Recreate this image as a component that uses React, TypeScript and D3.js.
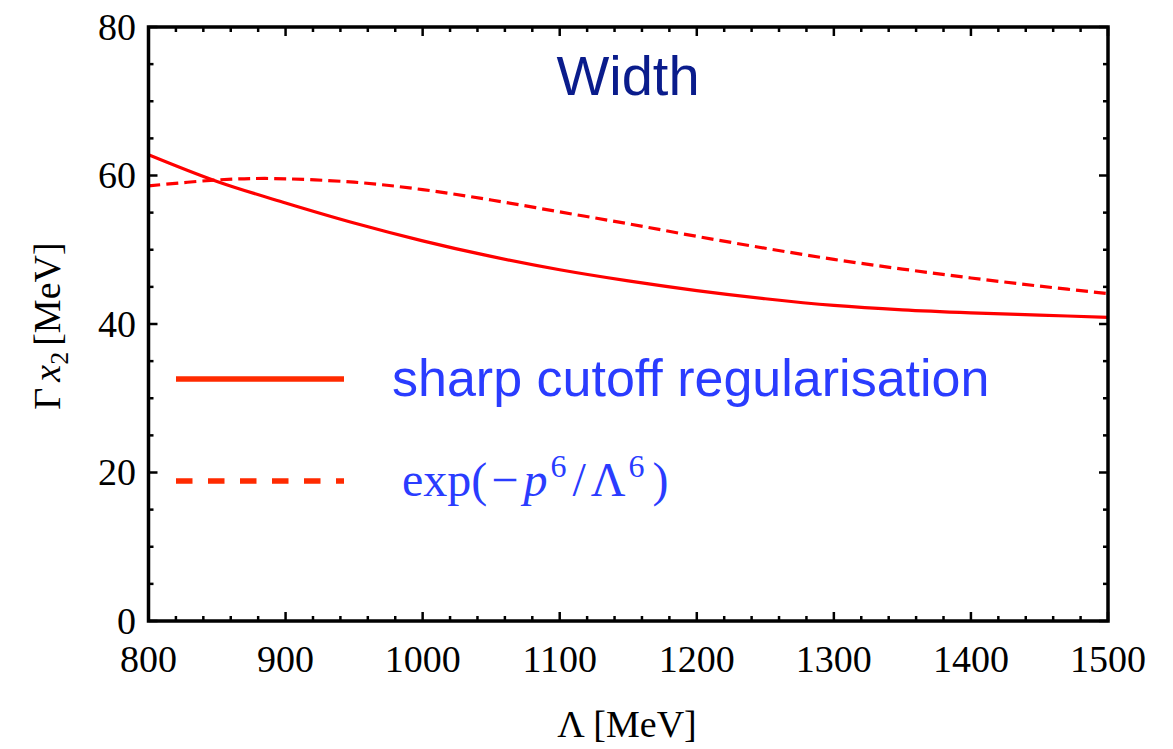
import React from "react";
import * as d3 from "d3";

const lambdaSolid = [800, 850, 900, 950, 1000, 1050, 1100, 1150, 1200, 1250, 1300, 1350, 1400, 1450, 1500];
const widthSolid = [62.8, 59.2, 56.3, 53.6, 51.2, 49.1, 47.3, 45.8, 44.5, 43.4, 42.5, 41.9, 41.5, 41.2, 40.9];
const lambdaDashed = [800, 850, 885, 950, 1000, 1050, 1100, 1150, 1200, 1250, 1300, 1350, 1400, 1450, 1500];
const widthDashed = [58.6, 59.4, 59.6, 59.1, 58.1, 56.7, 55.1, 53.5, 51.8, 50.2, 48.7, 47.4, 46.2, 45.1, 44.1];
const xMajor = [800, 900, 1000, 1100, 1200, 1300, 1400, 1500];
const yMajor = [0, 20, 40, 60, 80];

const W = 1173, H = 749;
const L = 148.5, R = 1108, T = 27, B = 621;

export default function App() {
  const x = d3.scaleLinear().domain([800, 1500]).range([L, R]);
  const y = d3.scaleLinear().domain([0, 80]).range([B, T]);
  const line = d3.line<[number, number]>().x(d => x(d[0])).y(d => y(d[1])).curve(d3.curveCatmullRom.alpha(0.5));
  const solid = line(lambdaSolid.map((l, i) => [l, widthSolid[i]]) as [number, number][]) || "";
  const dashed = line(lambdaDashed.map((l, i) => [l, widthDashed[i]]) as [number, number][]) || "";
  const xMinor = d3.range(800, 1501, 20).filter(v => v % 100 !== 0);
  const yMinor = d3.range(0, 81, 5).filter(v => v % 20 !== 0);
  const serif = "'Liberation Serif', 'DejaVu Serif', serif";
  const sans = "'Liberation Sans', Arial, sans-serif";
  const major = 9, minor = 5;
  return (
    <svg width={W} height={H} style={{ position: "absolute", left: 0, top: 0, background: "#fff" }}>
      <defs>
        <clipPath id="plot"><rect x={L} y={T} width={R - L} height={B - T} /></clipPath>
      </defs>
      <g clipPath="url(#plot)">
        <path d={solid} fill="none" stroke="#ff0000" strokeWidth={3.2} />
        <path d={dashed} fill="none" stroke="#ff0000" strokeWidth={3.2} strokeDasharray="12 6" />
      </g>
      {/* ticks */}
      <g stroke="#000" strokeWidth={2.5}>
        {xMajor.map(v => (
          <g key={"xm" + v}>
            <line x1={x(v)} x2={x(v)} y1={B} y2={B - major} />
            <line x1={x(v)} x2={x(v)} y1={T} y2={T + major} />
          </g>
        ))}
        {xMinor.map(v => (
          <g key={"xn" + v}>
            <line x1={x(v)} x2={x(v)} y1={B} y2={B - minor} />
            <line x1={x(v)} x2={x(v)} y1={T} y2={T + minor} />
          </g>
        ))}
        {yMajor.map(v => (
          <g key={"ym" + v}>
            <line x1={L} x2={L + major} y1={y(v)} y2={y(v)} />
            <line x1={R} x2={R - major} y1={y(v)} y2={y(v)} />
          </g>
        ))}
        {yMinor.map(v => (
          <g key={"yn" + v}>
            <line x1={L} x2={L + minor} y1={y(v)} y2={y(v)} />
            <line x1={R} x2={R - minor} y1={y(v)} y2={y(v)} />
          </g>
        ))}
      </g>
      <rect x={L} y={T} width={R - L} height={B - T} fill="none" stroke="#000" strokeWidth={3.5} />
      {/* tick labels */}
      <g fontFamily={serif} fontSize={38} fill="#000">
        {xMajor.map(v => (
          <text key={"xl" + v} x={x(v)} y={672} textAnchor="middle">{v}</text>
        ))}
        {yMajor.map(v => (
          <text key={"yl" + v} x={136} y={y(v)} dy="0.33em" textAnchor="end">{v}</text>
        ))}
      </g>
      {/* axis titles */}
      <text x={627} y={737} textAnchor="middle" fontFamily={serif} fontSize={38}>Λ [MeV]</text>
      <text transform="translate(60,326) rotate(-90)" textAnchor="middle" fontFamily={serif} fontSize={38}>
        Γ<tspan fontStyle="italic" dx="6">x</tspan><tspan fontSize={26} dy="8">2</tspan><tspan dy="-8" dx="6">[MeV]</tspan>
      </text>
      {/* title */}
      <text x={628} y={95} textAnchor="middle" fontFamily={sans} fontSize={56} fill="#0a1c8c">Width</text>
      {/* legend */}
      <line x1={176} x2={344} y1={379} y2={379} stroke="#ff2a00" strokeWidth={5.5} />
      <line x1={176} x2={344} y1={481} y2={481} stroke="#ff2a00" strokeWidth={5.5} strokeDasharray="16.5 15.5" />
      <text x={392} y={396} fontFamily={sans} fontSize={52} fill="#2a3cff">sharp cutoff regularisation</text>
      <text x={402} y={496} fontFamily={serif} fontSize={48} fill="#2a3cff">
        exp(<tspan dx="4">−</tspan><tspan fontStyle="italic" dx="5">p</tspan><tspan fontSize={32} dy="-19" dx="3">6</tspan><tspan dy="19" dx="6">/</tspan><tspan dx="5">Λ</tspan><tspan fontSize={32} dy="-19" dx="3">6</tspan><tspan dy="19" dx="8">)</tspan>
      </text>
    </svg>
  );
}
